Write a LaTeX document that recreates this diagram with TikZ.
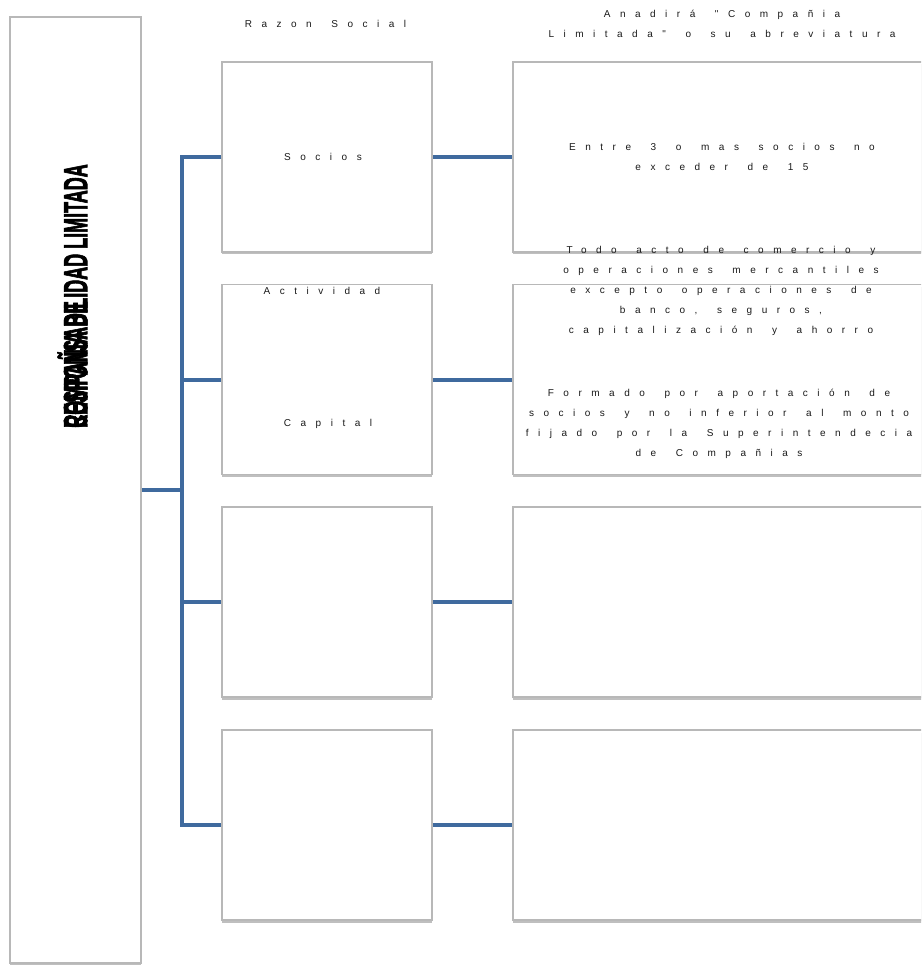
\documentclass[tikz,border=0pt]{standalone}
\usepackage{fontspec}
\setsansfont{Liberation Sans}
\newfontfamily\spaced{Liberation Sans}[LetterSpace=95,WordSpace=1.6]
\newfontfamily\heavy{Liberation Sans Bold}[FakeBold=3]
\usetikzlibrary{shadows}
\definecolor{bar}{HTML}{3F6A9E}
\definecolor{edge}{HTML}{B8B8B8}
\definecolor{ink}{HTML}{1A1A1A}

\begin{document}
\begin{tikzpicture}[x=1pt,y=-1pt]
  \tikzstyle{bx}=[rectangle,draw=edge,line width=1.5pt,fill=white,inner sep=0pt,drop shadow={shadow xshift=0pt,shadow yshift=-2.5pt,opacity=0.5}]
  \tikzstyle{lbl}=[align=center,text=ink,font=\spaced\fontsize{10}{20}\selectfont]
  \tikzstyle{link}=[draw=bar,line width=4pt]
  \useasboundingbox (0,0) rectangle (921,965);
  \clip (0,0) rectangle (921,965);
  \node[bx,minimum width=131pt,minimum height=946pt] (lft) at (75.5,490) {};
  \foreach \i/\y in {1/157,2/379.5,3/602,4/825}{
    \node[bx,minimum width=210pt,minimum height=190pt] (m\i) at (327,\y) {};
    \node[bx,minimum width=417pt,minimum height=190pt] (d\i) at (721.5,\y) {};
  }
  \node[rotate=90,xscale=0.545,inner sep=0pt,font=\heavy\fontsize{33}{33}\selectfont] (tipo) at (72.5,296) {\rlap{COMPAÑIA DE}RESPONSABILIDAD LIMITADA};
  \coordinate (bus) at (182,490);
  \draw[link] (m1.west) -| (bus) |- (m4.west);
  \draw[link] (lft.east) -- (bus);
  \draw[link] (m2.west -| bus) -- (m2.west);
  \draw[link] (m3.west -| bus) -- (m3.west);
  \foreach \i in {1,...,4} \draw[link] (m\i.east) -- (d\i.west);
  \node[lbl] (razon) at (325.5,24) {Razon Social};
  \node[lbl] (anadira) at (722,23.5) {Anadirá "Compañia\\Limitada" o su abreviatura};
  \node[lbl] (socios) at (323,157) {Socios};
  \node[lbl] (entre) at (722,157) {Entre 3 o mas socios no\\exceder de 15};
  \node[lbl] (actividad) at (322,291) {Actividad};
  \node[lbl] (todo) at (721,291) {Todo acto de comercio y\\operaciones mercantiles\\excepto operaciones de\\banco, seguros,\\capitalización y ahorro};
  \node[lbl] (capital) at (328,424) {Capital};
  \node[lbl] (formado) at (719,424) {Formado por aportación de\\socios y no inferior al monto\\fijado por la Superintendecia\\de Compañias};
\end{tikzpicture}
\end{document}
